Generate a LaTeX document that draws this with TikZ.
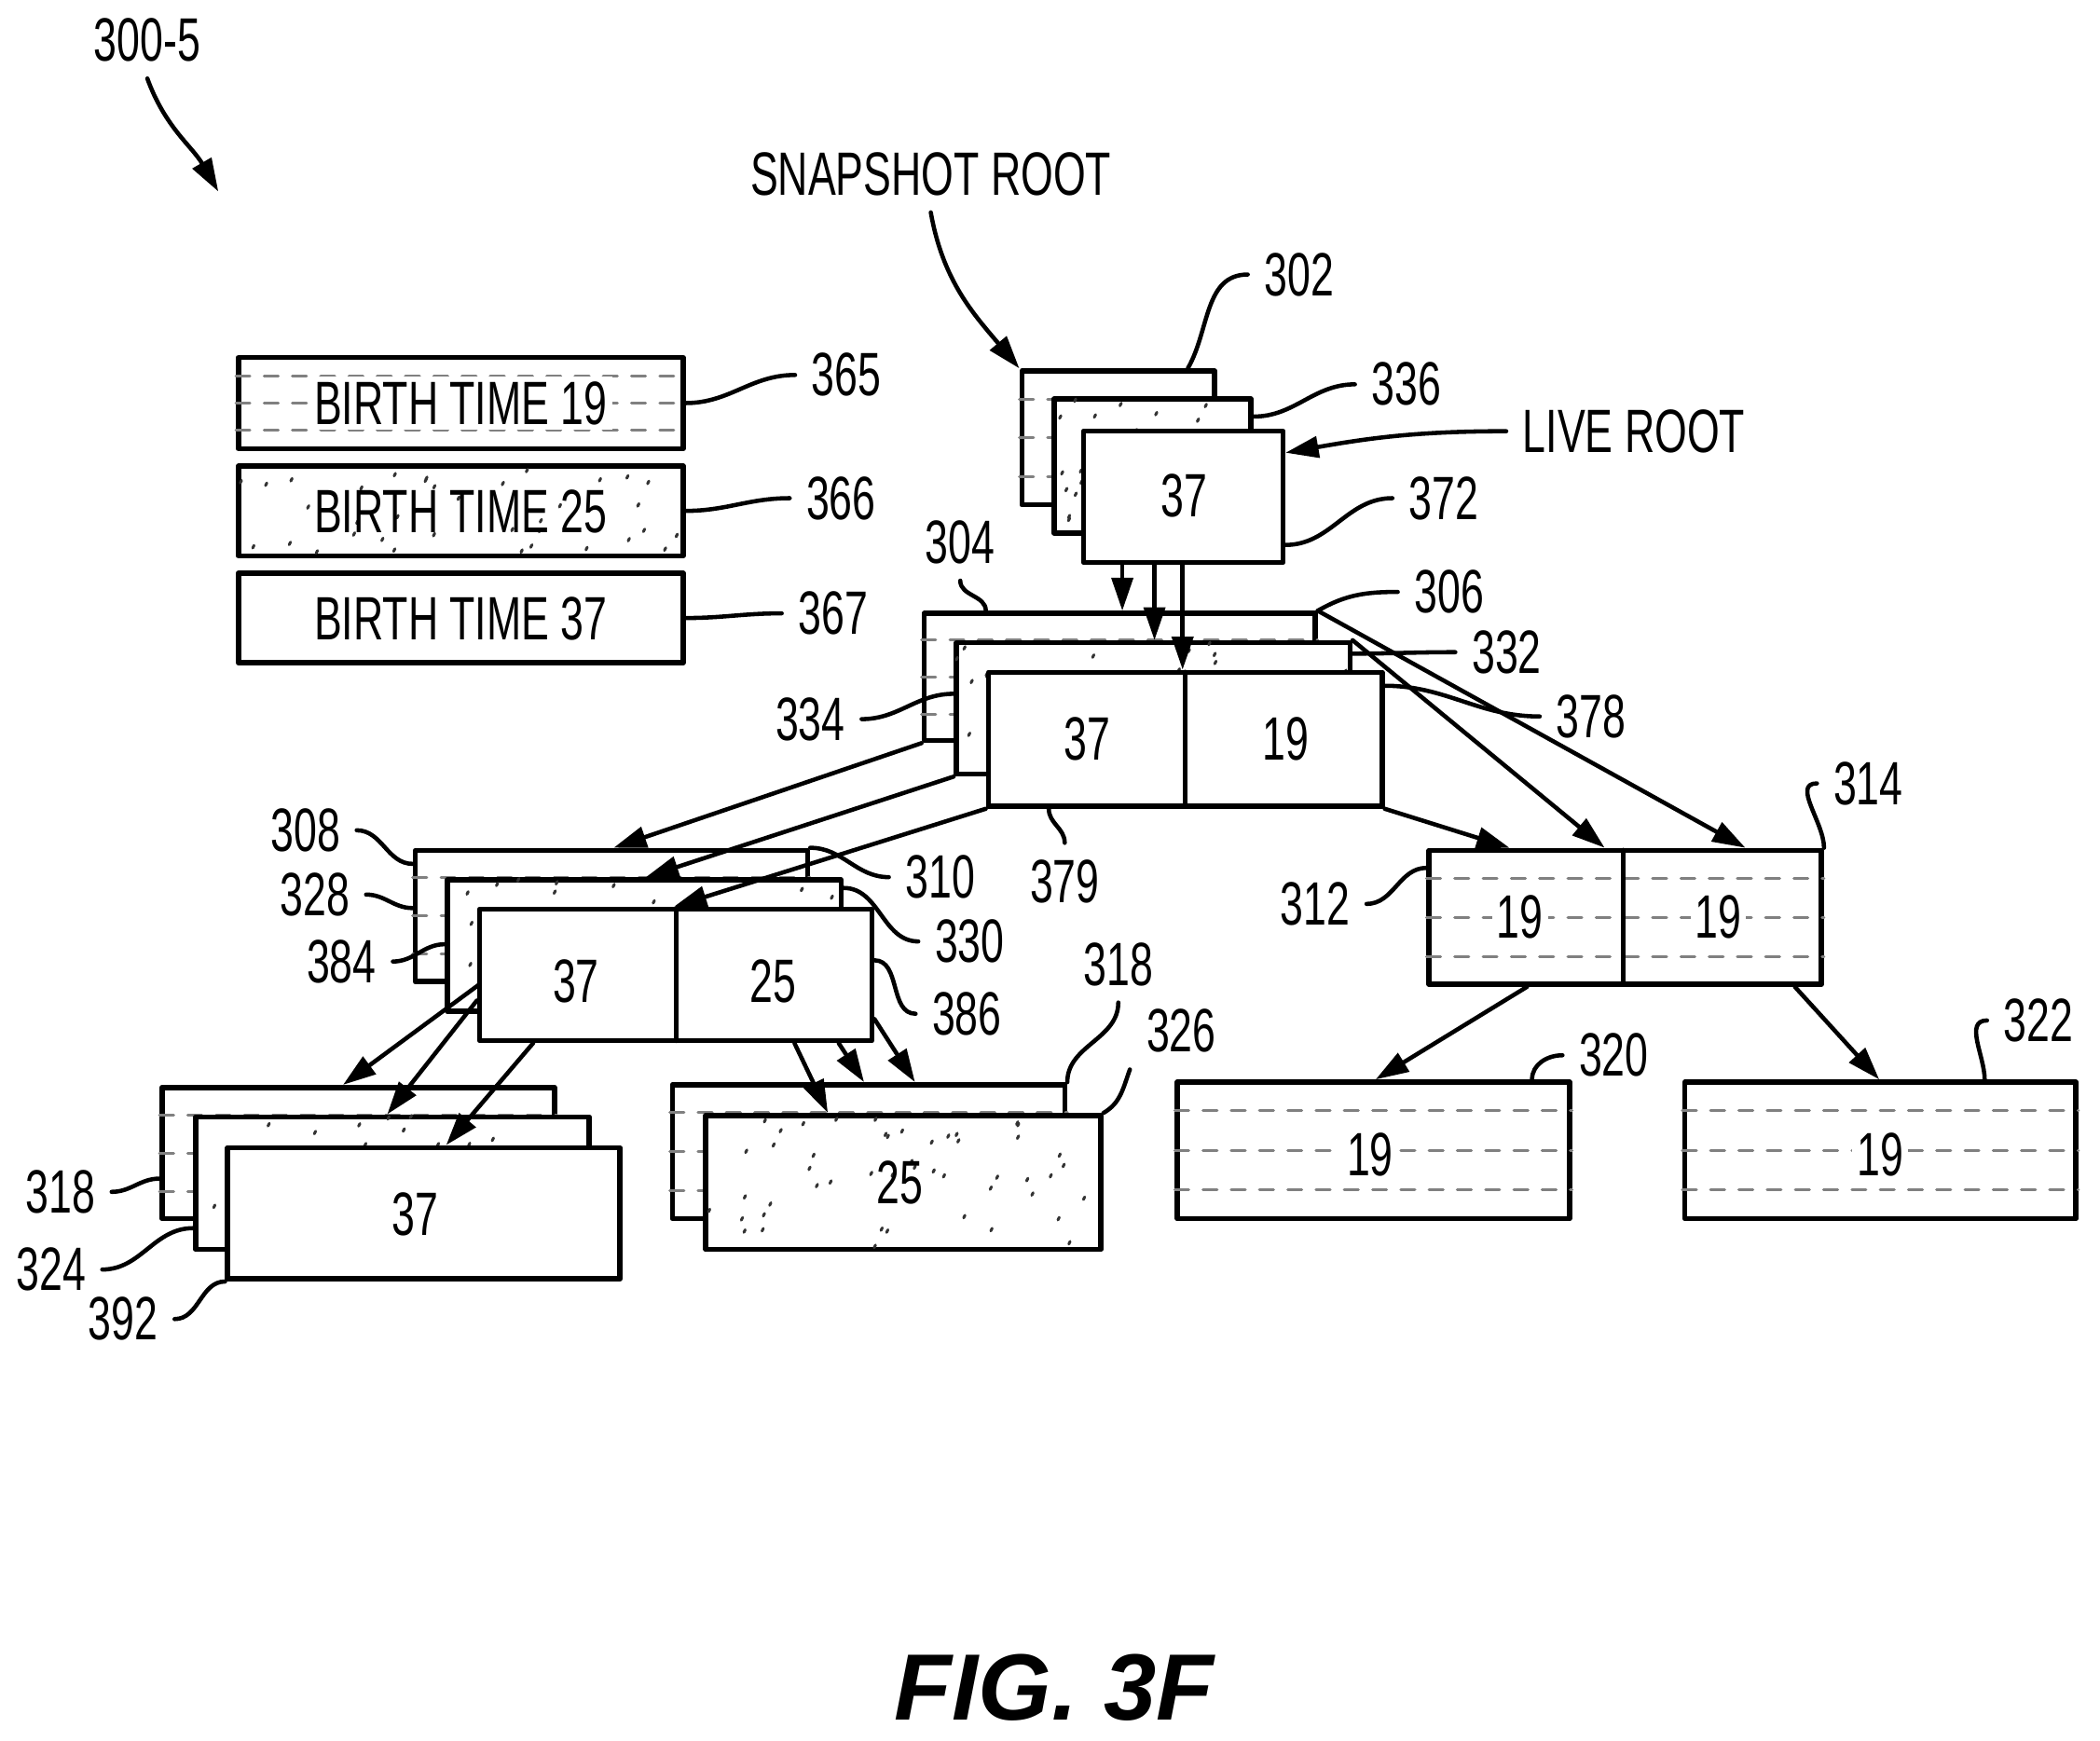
\documentclass[tikz,border=0pt]{standalone}
\usepackage{fontspec}
\setmainfont{Liberation Sans}[FakeStretch=0.68]
\newfontfamily\figfont{Liberation Sans}
\usetikzlibrary{arrows.meta,fit,calc}

\newcommand{\tbox}[6]{% name, kind, corners
  \node[box, fit={(#3,#4)(#5,#6)}] (#1) {};
  \ifcase#2\or
    \foreach \f in {0.22,0.5,0.78}
      \draw[hatch] ($(#1.south west)!\f!(#1.north west)+(0.05,0)$) -- ($(#1.south east)!\f!(#1.north east)-(0.05,0)$);
  \or
    \begin{scope}
      \clip (#1.south west) rectangle (#1.north east);
      \pgfmathtruncatemacro\nd{((#5-#3)/30)*((#6-#4)/20)}
      \foreach \k in {1,...,\nd}{
        \pgfmathsetmacro\u{rnd}\pgfmathsetmacro\v{rnd}
        \draw[line width=0.6pt,black!80] ({#3+\u*(#5-#3)},{#4+\v*(#6-#4)}) -- ++(1,-2);}
    \end{scope}
  \fi}

\begin{document}
\begin{tikzpicture}[x=0.01cm,y=-0.01cm,line cap=round,line join=round,
  box/.style={draw,fill=white,inner sep=0pt,line width=1.1pt},
  hatch/.style={dashed,gray,line width=0.6pt},
  num/.style={font=\fontsize{13}{15}\selectfont},
  arr/.style={line width=0.9pt,-{Triangle[length=7pt,width=4.5pt]}},
  lead/.style={line width=0.9pt}]
\pgfmathsetseed{7}
\useasboundingbox (0,0) rectangle (1568,1300);
% legend
\tbox{b365}{1}{178}{267}{510}{335}
\tbox{b366}{2}{178}{348}{510}{415}
\tbox{b367}{0}{178}{428}{510}{495}
\node[num,fill=white,inner sep=1pt] (t365) at (344,301) {BIRTH TIME 19};
\node[num] (t366) at (344,382) {BIRTH TIME 25};
\node[num] (t367) at (344,462) {BIRTH TIME 37};
\node[num] (l365) at (632,280) {365};
\node[num] (l366) at (628,372) {366};
\node[num] (l367) at (622,458) {367};
\draw[lead] (b365.east) to[out=0,in=180] (l365.west);
\draw[lead] (b366.east) to[out=0,in=180] (l366.west);
\draw[lead] (b367.east) to[out=0,in=180] (l367.west);
% root
\tbox{b302}{1}{763}{277}{907}{377}
\tbox{b336}{2}{787}{298}{934}{398}
\tbox{b372}{0}{809}{322}{958}{420}
\node[num] (t372) at (884,370) {37};
% level 1
\tbox{b304}{1}{690}{458}{982}{553}
\tbox{b332}{2}{714}{480}{1008}{578}
\tbox{b379}{0}{738}{502}{1032}{602}
\draw[box] (885,502) coordinate (m379) -- (885,602);
\node[num] (t379a) at (812,552) {37};
\node[num] (t379b) at (960,552) {19};
\coordinate (s1) at (838,420); \coordinate (s2) at (862,420); \coordinate (s3) at (883,420);
\draw[arr] (s1) -- (s1|-b304.north);
\draw[arr] (s2) -- (s2|-b332.north);
\draw[arr] (s3) -- (s3|-b379.north);
% level 2 right
\tbox{b312}{1}{1067}{635}{1360}{735}
\draw[box] (1212,635) -- (1212,735);
\node[num,fill=white,inner sep=1pt] (t312) at (1135,685) {19};
\node[num,fill=white,inner sep=1pt] (t314) at (1283,685) {19};
\draw[arr] (b379.south east) -- ([xshift=0.62cm]b312.north west);
\draw[arr] (b332.north east) -- ([xshift=1.33cm]b312.north west);
\draw[arr] (b304.north east) -- ([xshift=2.38cm]b312.north west);
% level 2 left
\tbox{b308}{1}{310}{635}{603}{733}
\tbox{b328}{2}{334}{657}{628}{755}
\tbox{b384}{0}{358}{679}{651}{777}
\draw[box] (505,679) -- (505,777);
\node[num] (t384) at (430,733) {37};
\node[num] (t386) at (577,733) {25};
\draw[arr] (b304.south west) -- ([xshift=1.5cm]b308.north west);
\draw[arr] (b332.south west) -- ([xshift=1.5cm]b328.north west);
\draw[arr] (b379.south west) -- ([xshift=1.47cm]b384.north west);
% level 3
\tbox{b318}{1}{121}{812}{414}{910}
\tbox{b324}{2}{146}{834}{440}{933}
\tbox{b392}{0}{170}{857}{463}{955}
\node[num] (t392) at (310,907) {37};
\tbox{c318}{1}{502}{810}{795}{910}
\tbox{b326}{2}{527}{833}{822}{933}
\node[num] (t326) at (672,883) {25};
\tbox{b320}{1}{879}{808}{1172}{910}
\node[num,fill=white,inner sep=1pt] (t320) at (1023,862) {19};
\tbox{b322}{1}{1258}{808}{1550}{910}
\node[num,fill=white,inner sep=1pt] (t322) at (1404,862) {19};
\draw[arr] ([xshift=0.5cm]b308.south west) -- ([xshift=1.37cm]b318.north west);
\draw[arr] ([yshift=-0.7cm]b384.north west) -- ([xshift=1.45cm]b324.north west);
\draw[arr] ([xshift=0.42cm]b384.south west) -- ([xshift=1.65cm]b392.north west);
\draw[arr] ([xshift=2.37cm]b384.south west) -- ([xshift=0.93cm]b326.north west);
\draw[arr] ([xshift=2.7cm]b384.south west) -- ([xshift=1.45cm]c318.north west);
\draw[arr] ([yshift=0.18cm]b384.south east) -- ([xshift=1.83cm]c318.north west);
\draw[arr] ([xshift=0.75cm]b312.south west) -- ([xshift=1.5cm]b320.north west);
\draw[arr] ([xshift=2.75cm]b312.south west) -- ([xshift=1.47cm]b322.north west);
% labels
\node[num] (l302) at (970,205) {302};
\node[num] (l336) at (1050,287) {336};
\node[num] (l372) at (1078,372) {372};
\node[num] (l304) at (717,405) {304};
\node[num] (l306) at (1082,442) {306};
\node[num] (l332) at (1125,487) {332};
\node[num] (l378) at (1188,535) {378};
\node[num] (l334) at (605,537) {334};
\node[num] (l379) at (795,658) {379};
\node[num] (l314) at (1395,585) {314};
\node[num] (l312) at (982,675) {312};
\node[num] (l308) at (228,620) {308};
\node[num] (l328) at (235,668) {328};
\node[num] (l384) at (255,718) {384};
\node[num] (l310) at (702,655) {310};
\node[num] (l330) at (724,703) {330};
\node[num] (l386) at (722,757) {386};
\node[num] (l318a) at (835,720) {318};
\node[num] (l326) at (882,770) {326};
\node[num] (l320) at (1205,788) {320};
\node[num] (l322) at (1522,762) {322};
\node[num] (l318b) at (45,890) {318};
\node[num] (l324) at (38,948) {324};
\node[num] (l392) at (92,985) {392};
\draw[lead] ([xshift=-0.22cm]b302.north east) to[out=60,in=180] (l302.west);
\draw[lead] ([yshift=-0.15cm]b336.north east) to[out=0,in=180] (l336.west);
\draw[lead] ([yshift=0.15cm]b372.south east) to[out=0,in=180] (l372.west);
\draw[lead] ([xshift=0.48cm]b304.north west) to[out=90,in=-90] (l304.south);
\draw[lead] (b304.north east) to[out=30,in=180] (l306.west);
\draw[lead] ([yshift=-0.1cm]b332.north east) to[out=0,in=180] (l332.west);
\draw[lead] ([yshift=-0.12cm]b379.north east) to[out=0,in=180] (l378.west);
\draw[lead] ([yshift=-0.4cm]b332.north west) to[out=180,in=0] (l334.east);
\draw[lead] ([xshift=0.47cm]b379.south west) to[out=-90,in=90] (l379.north);
\draw[lead] (b312.north east) to[out=90,in=180] (l314.west);
\draw[lead] ([yshift=-0.15cm]b312.north west) to[out=180,in=0] (l312.east);
\draw[lead] ([yshift=-0.12cm]b308.north west) to[out=180,in=0] (l308.east);
\draw[lead] ([yshift=-0.45cm]b308.north west) to[out=180,in=0] (l328.east);
\draw[lead] ([yshift=-0.5cm]b328.north west) to[out=180,in=0] (l384.east);
\draw[lead] (b308.north east) to[out=0,in=180] (l310.west);
\draw[lead] ([yshift=-0.08cm]b328.north east) to[out=0,in=180] (l330.west);
\draw[lead] ([yshift=-0.4cm]b384.north east) to[out=0,in=180] (l386.west);
\draw[lead] (c318.north east) to[out=90,in=-90] (l318a.south);
\draw[lead] (b326.north east) to[out=30,in=-110] (l326.south west);
\draw[lead] ([xshift=-0.3cm]b320.north east) to[out=90,in=180] (l320.west);
\draw[lead] ([xshift=-0.7cm]b322.north east) to[out=90,in=180] (l322.west);
\draw[lead] ([yshift=-0.7cm]b318.north west) to[out=180,in=0] (l318b.east);
\draw[lead] ([yshift=-0.85cm]b324.north west) to[out=180,in=0] (l324.east);
\draw[lead] (b392.south west) to[out=180,in=0] (l392.east);
% root pointers
\node[num] (lsnap) at (695,130) {SNAPSHOT ROOT};
\node[num] (llive) at (1220,322) {LIVE ROOT};
\node[num] (l300) at (110,30) {300-5};
\coordinate (p300) at (163,143);
\draw[arr] (lsnap.south) to[out=-80,in=130] (b302.north west);
\draw[arr] (llive.west) to[out=180,in=10] ([yshift=-0.18cm]b372.north east);
\draw[arr] (l300.south) to[out=-70,in=120] (p300);
\node[font=\figfont\bfseries\itshape\fontsize{20}{24}\selectfont] (fig) at (787,1260) {FIG. 3F};
\end{tikzpicture}
\end{document}
